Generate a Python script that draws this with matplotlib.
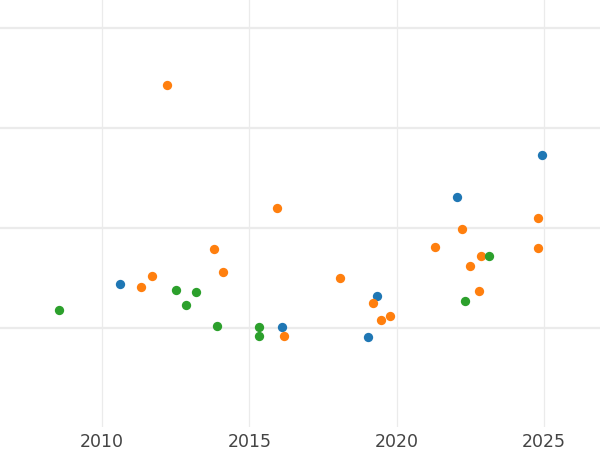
import numpy as np
from matplotlib import pyplot as plt

# three groups of (year, value) points
blue_x = [2010.62, 2016.09, 2019.03, 2019.32, 2022.05, 2024.93]
blue_y = [0.44, 0.007, -0.093, 0.323, 1.307, 1.73]

orange_x = [2012.19, 2011.32, 2011.70, 2013.80, 2014.10, 2015.94, 2016.16, 2018.06, 2019.18,
            2019.46, 2019.78, 2021.29, 2022.22, 2022.49, 2022.78, 2022.87, 2024.80, 2024.79]
orange_y = [2.43, 0.41, 0.517, 0.793, 0.557, 1.197, -0.08, 0.497, 0.247,
            0.083, 0.117, 0.81, 0.993, 0.617, 0.367, 0.72, 1.10, 0.80]

green_x = [2008.53, 2012.51, 2012.83, 2013.17, 2013.90, 2015.32, 2015.31, 2022.31, 2023.12]
green_y = [0.18, 0.383, 0.233, 0.36, 0.023, 0.01, -0.08, 0.27, 0.717]

x_ticks = [2010, 2015, 2020, 2025]
y_grid = [0, 1, 2, 3]

fig = plt.figure(figsize=(6, 4.5), dpi=100)
ax = fig.add_axes([0, 1 - 427/450, 1, 427/450])

for yg in y_grid:
    ax.axhline(yg, color='#ebebeb', lw=1.6, zorder=0)
for xg in x_ticks:
    ax.axvline(xg, color='#ebebeb', lw=0.9, zorder=0)

ax.scatter(blue_x, blue_y, c='#1f77b4', s=45, linewidths=0, zorder=3)
ax.scatter(orange_x, orange_y, c='#ff7f0e', s=45, linewidths=0, zorder=3)
ax.scatter(green_x, green_y, c='#2ca02c', s=45, linewidths=0, zorder=3)

ax.set_xlim(2006.53, 2026.90)
ax.set_ylim(-0.99, 3.28)
ax.set_xticks(x_ticks)
ax.set_yticks([])
ax.tick_params(axis='x', length=0, pad=4, labelsize=12.5, labelcolor='#444444')
for s in ax.spines.values():
    s.set_visible(False)

plt.savefig('out.png', dpi=100)
